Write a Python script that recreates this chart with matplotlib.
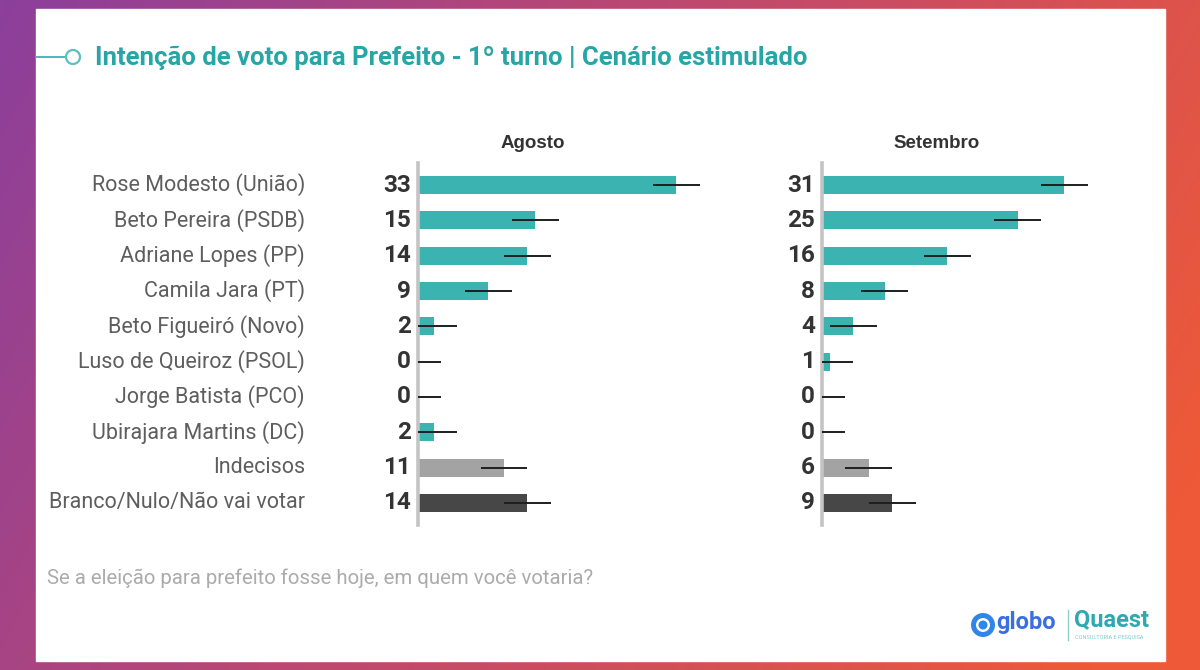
import matplotlib
matplotlib.use("Agg")
import matplotlib.pyplot as plt
import matplotlib.transforms as mtransforms
from matplotlib.colors import LinearSegmentedColormap
from matplotlib.patches import Rectangle, Ellipse
import numpy as np

plt.rcParams["font.family"] = ["Roboto", "DejaVu Sans"]

# ---- data -------------------------------------------------------------
candidates = [
    "Rose Modesto (União)", "Beto Pereira (PSDB)", "Adriane Lopes (PP)",
    "Camila Jara (PT)", "Beto Figueiró (Novo)", "Luso de Queiroz (PSOL)",
    "Jorge Batista (PCO)", "Ubirajara Martins (DC)", "Indecisos",
    "Branco/Nulo/Não vai votar",
]
agosto = [33, 15, 14, 9, 2, 0, 0, 2, 11, 14]
setembro = [31, 25, 16, 8, 4, 1, 0, 0, 6, 9]
margin_of_error = 3
panel_titles = ["Agosto", "Setembro"]

title = "Intenção de voto para Prefeito - 1º turno | Cenário estimulado"
question = "Se a eleição para prefeito fosse hoje, em quem você votaria?"

TEAL = "#3AB3B1"
bar_colors = [TEAL] * 8 + ["#A3A3A3", "#474747"]

W, H = 1200, 670
fig = plt.figure(figsize=(W / 100, H / 100), dpi=100)


def fx(px):
    return px / W


def fy(py):
    return 1 - py / H


def dot(ax, cx, cy, r, **kw):
    # round marker given in pixels, drawn in figure-fraction coords
    ax.add_patch(Ellipse((fx(cx), fy(cy)), 2 * r / W, 2 * r / H,
                         transform=ax.transAxes, **kw))


# ---- gradient background + white card -------------------------------
bg = fig.add_axes([0, 0, 1, 1])
bg.set_axis_off()
xx, yy = np.meshgrid(np.linspace(0, 1, 300), np.linspace(0, 1, 200))
grad = np.clip(0.82 * xx + 0.25 * yy, 0, 1)
cmap = LinearSegmentedColormap.from_list(
    "bg", ["#8C3F9B", "#B0467C", "#D04E5C", "#EE5A37"])
bg.imshow(grad, cmap=cmap, aspect="auto", extent=[0, 1, 0, 1], origin="upper")
bg.set_xlim(0, 1)
bg.set_ylim(0, 1)
bg.add_patch(Rectangle((fx(36), fy(661)), fx(1165 - 36), (661 - 9) / H,
                       color="white", zorder=2))

# title decoration: line + hollow circle
bg.plot([fx(36), fx(66)], [fy(57), fy(57)], color=TEAL, lw=1.3, zorder=3)
dot(bg, 73, 57, 7, facecolor="white", edgecolor="#5DBFC0", lw=1.6, zorder=4)
fig.text(fx(95), fy(58), title, color="#27A6A6", fontsize=18.5,
         fontweight="bold", va="center", ha="left")

# ---- panels -----------------------------------------------------------
PX_PER_UNIT = 7.82
XMAX = 40
ROW0, ROWSTEP = 185, 35.33
top_px, bot_px = 163, 525
pad = (ROW0 - top_px) / ROWSTEP

for left_px, values, head in zip([418, 822], [agosto, setembro], panel_titles):
    ax = fig.add_axes([fx(left_px), fy(bot_px), fx(XMAX * PX_PER_UNIT),
                       (bot_px - top_px) / H])
    ax.set_xlim(0, XMAX)
    ax.set_ylim(len(values) - 1 + pad, -pad)
    ax.patch.set_alpha(0)
    for s in ["top", "right", "bottom"]:
        ax.spines[s].set_visible(False)
    ax.spines["left"].set_color("#C4C4C4")
    ax.spines["left"].set_linewidth(2.6)
    ax.set_xticks([])
    ax.set_yticks([])

    y = np.arange(len(values))
    ax.barh(y, values, height=0.51, color=bar_colors, zorder=2)
    lo = [max(0, v - margin_of_error) for v in values]
    hi = [v + margin_of_error for v in values]
    ax.hlines(y, lo, hi, color="#1E1E1E", lw=1.4, zorder=3)

    for yi, v in zip(y, values):
        ax.annotate(str(v), xy=(0, yi), xytext=(-5, 0),
                    textcoords="offset points", ha="right", va="center",
                    fontsize=17.5, fontweight="bold", color="#333333")

    fig.text(fx(left_px + 115), fy(143), head, ha="center", va="center",
             fontsize=13.5, fontweight="bold", color="#333333",
             family=["Liberation Sans", "DejaVu Sans"])

    if left_px == 418:
        tr = mtransforms.blended_transform_factory(fig.transFigure, ax.transData)
        for yi, name in zip(y, candidates):
            ax.text(fx(305), yi, name, transform=tr, ha="right", va="center",
                    fontsize=15.5, color="#5E5E5E")

# ---- footnote + logos -------------------------------------------------
fig.text(fx(47), fy(578), question, fontsize=14.7, color="#ABABAB",
         va="center", ha="left")

dot(bg, 983, 625, 12, facecolor="#2F86E8", edgecolor="none", zorder=4)
dot(bg, 983, 625, 7, facecolor="white", edgecolor="none", zorder=5)
dot(bg, 983, 625, 4.5, facecolor="#2F86E8", edgecolor="none", zorder=6)
fig.text(fx(996), fy(623), "globo", fontsize=17, fontweight="bold",
         color="#3B6FE0", va="center", ha="left")
bg.plot([fx(1068), fx(1068)], [fy(610), fy(640)], color="#8FCFD0", lw=1,
        zorder=4)
fig.text(fx(1074), fy(620), "Quaest", fontsize=17, fontweight="bold",
         color="#2FA9B0", va="center", ha="left")
fig.text(fx(1075), fy(637), "CONSULTORIA E PESQUISA", fontsize=4,
         color="#7FC9CC", va="center", ha="left")

fig.savefig("out.png", dpi=100)
